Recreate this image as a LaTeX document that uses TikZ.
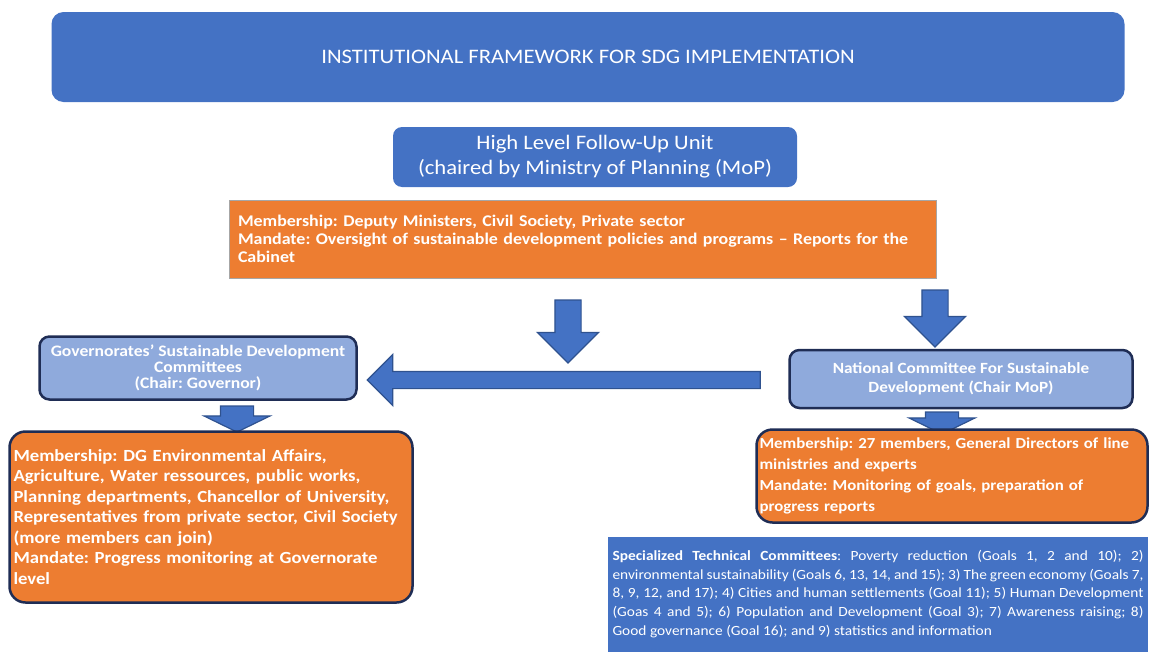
\documentclass[tikz,border=0pt]{standalone}
\usepackage{fontspec}
\setmainfont{Carlito}[FakeStretch=1.1]
\usetikzlibrary{shapes.arrows}

\definecolor{sdgblue}{HTML}{4472C4}
\definecolor{sdglight}{HTML}{8FAADC}
\definecolor{sdgorange}{HTML}{ED7D31}
\definecolor{sdgnavy}{HTML}{1F2D55}
\definecolor{sdgedge}{HTML}{2F528F}

\tikzset{
	bluebox/.style={fill=sdgblue, text=white, align=center, inner sep=0pt},
	unitbox/.style={fill=sdglight, draw=sdgnavy, line width=2.5pt, rounded corners=10pt, text=white, align=center, inner sep=0pt},
	infobox/.style={fill=sdgorange, draw=sdgnavy, line width=2.5pt, rounded corners=16pt, text=white, align=left, inner xsep=4pt},
	fatarrow/.style={single arrow, fill=sdgblue, draw=sdgedge, line width=1.2pt, shape border rotate=270},
}

\begin{document}
\frenchspacing
\begin{tikzpicture}[x=1pt, y=-1pt]
	\useasboundingbox (0,0) rectangle (1151,656);
	
	% top
	\node[bluebox, rounded corners=12pt, minimum width=1073pt, minimum height=90pt, font=\fontsize{20.6}{24}\selectfont] (title) at (588,57) {INSTITUTIONAL FRAMEWORK FOR SDG IMPLEMENTATION};
	\node[bluebox, rounded corners=9pt, minimum width=404pt, minimum height=60pt, font=\fontsize{20.6}{25}\selectfont] (unit) at (595,157) {High Level Follow-Up Unit\\(chaired by Ministry of Planning (MoP)};
	\node[fill=sdgorange, draw=black!35, line width=.8pt, text=white, align=left, text width=690pt, inner xsep=8.5pt, minimum height=78pt, font=\fontsize{16.3}{18}\selectfont\bfseries] (unitinfo) at (583,239) {Membership: Deputy Ministers, Civil Society, Private sector\\
		Mandate: Oversight of sustainable development policies and programs -- Reports for the\\
		Cabinet};
	
	% arrows
	\node[fatarrow, inner xsep=12.5pt, inner ysep=0pt, minimum height=63pt, single arrow head extend=17.5pt] (marrow) at (568,325) {};
	\node[fatarrow, inner xsep=12.5pt, inner ysep=0pt, minimum height=57pt, single arrow head extend=17.5pt] (rarrow) at (935,312) {};
	\node[fatarrow, shape border rotate=180, inner ysep=8pt, inner xsep=0pt, minimum height=393pt, single arrow head extend=17pt] (larrow) at (568,380) {};
	
	% left
	\node[unitbox, minimum width=317pt, minimum height=63pt, font=\fontsize{16}{16}\selectfont\bfseries] (gov) at (198,368) {Governorates’ Sustainable Development\\Committees\\(Chair: Governor)};
	\node[fatarrow, inner xsep=16pt, inner ysep=0pt, minimum height=26pt, single arrow head extend=16.5pt, single arrow tip angle=128] (garrow) at (237,415) {};
	\node[infobox, text width=395pt, minimum height=171pt, font=\fontsize{17}{20.5}\selectfont\bfseries] (govinfo) at (211,517) {Membership: DG Environmental Affairs,\\
		Agriculture, Water ressources, public works,\\
		Planning departments, Chancellor of University,\\
		Representatives from private sector, Civil Society\\
		(more members can join)\\
		Mandate: Progress monitoring at Governorate\\
		level};
	
	% right
	\node[unitbox, minimum width=343pt, minimum height=58pt, font=\fontsize{15.6}{19}\selectfont\bfseries] (nat) at (961,379) {National Committee For Sustainable\\Development (Chair MoP)};
	\node[fatarrow, inner xsep=16pt, inner ysep=0pt, minimum height=22pt, single arrow head extend=16.5pt, single arrow tip angle=128] (narrow) at (942,419) {};
	\node[infobox, text width=385pt, inner xsep=3pt, minimum height=93pt, font=\fontsize{15.3}{21}\selectfont\bfseries] (natinfo) at (952,476) {Membership: 27 members, General Directors of line\\
		ministries and experts\\
		Mandate: Monitoring of goals, preparation of\\
		progress reports};
	\node[bluebox, text width=531pt, inner xsep=4.5pt, minimum height=115pt, align=justify, font=\fontsize{14}{18.8}\selectfont] (stc) at (878,594) {\textbf{Specialized Technical Committees}: Poverty reduction (Goals 1, 2 and 10); 2)\linebreak
		environmental sustainability (Goals 6, 13, 14, and 15); 3) The green economy (Goals 7,\linebreak
		8, 9, 12, and 17); 4) Cities and human settlements (Goal 11); 5) Human Development\linebreak
		(Goas 4 and 5); 6) Population and Development (Goal 3); 7) Awareness raising; 8)\linebreak
		Good governance (Goal 16); and 9) statistics and information};
\end{tikzpicture}
\end{document}
